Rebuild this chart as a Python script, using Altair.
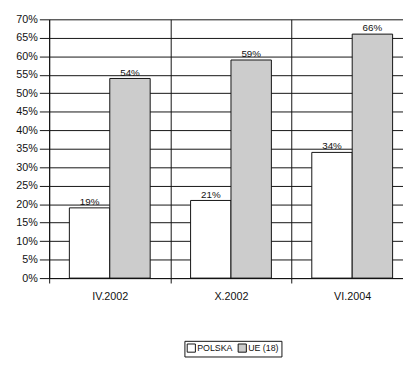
import altair as alt
import pandas as pd

categories = ["IV.2002", "X.2002", "VI.2004"]
series = ["POLSKA", "UE (18)"]
polska = [19, 21, 34]
ue = [54, 59, 66]
y_ticks = list(range(0, 71, 5))

rows = []
for c, p, u in zip(categories, polska, ue):
    rows.append({"cat": c, "series": series[0], "value": p})
    rows.append({"cat": c, "series": series[1], "value": u})
df = pd.DataFrame(rows)

font = "Liberation Sans"

x = alt.X("cat:N", sort=categories, title=None,
          scale=alt.Scale(paddingInner=0, paddingOuter=0, range=[0, 371]),
          axis=alt.Axis(tickBand="extent", grid=True, gridColor="#111", gridWidth=1,
                        domainColor="#111", tickColor="#111", tickSize=5, labelPadding=8,
                        labelAngle=0, labelFont=font, labelFontSize=11, labelColor="#111"))
xo = alt.XOffset("series:N", sort=series, scale=alt.Scale(paddingInner=0, paddingOuter=0.5))
y = alt.Y("value:Q", title=None,
          scale=alt.Scale(domain=[0, 70], nice=False),
          axis=alt.Axis(values=y_ticks, labelExpr="datum.value + '%'", grid=True,
                        gridColor="#111", gridWidth=1, domainColor="#111", tickColor="#111",
                        tickSize=10, labelPadding=2, labelFont=font, labelFontSize=11,
                        labelColor="#111"))
color = alt.Color("series:N", sort=series,
                  scale=alt.Scale(domain=series, range=["#ffffff", "#cccccc"]),
                  legend=alt.Legend(title=None, orient="none", legendX=138, legendY=328,
                                    direction="horizontal", symbolType="square",
                                    symbolSize=70, symbolStrokeColor="#111",
                                    symbolStrokeWidth=1, strokeColor="#111", fillColor="white",
                                    padding=2, labelFont=font, labelFontSize=9,
                                    labelColor="#111", columnPadding=2, labelOffset=1))

bars = alt.Chart(df).mark_bar(stroke="#111", strokeWidth=1).encode(x=x, xOffset=xo, y=y, color=color)
labels = alt.Chart(df).transform_calculate(lab="datum.value + '%'").mark_text(
    dy=-6, font=font, fontSize=10, color="#111").encode(x=x, xOffset=xo, y=y, text="lab:N")

chart = alt.layer(bars, labels).properties(
    width=361, height=264,
    autosize=alt.AutoSizeParams(type="none"),
    padding={"left": 42, "top": 8, "right": 0, "bottom": 80},
).configure_view(stroke=None).configure_axis(domainWidth=1)

chart.save("out.html", embed_options={"renderer": "svg", "actions": False})
